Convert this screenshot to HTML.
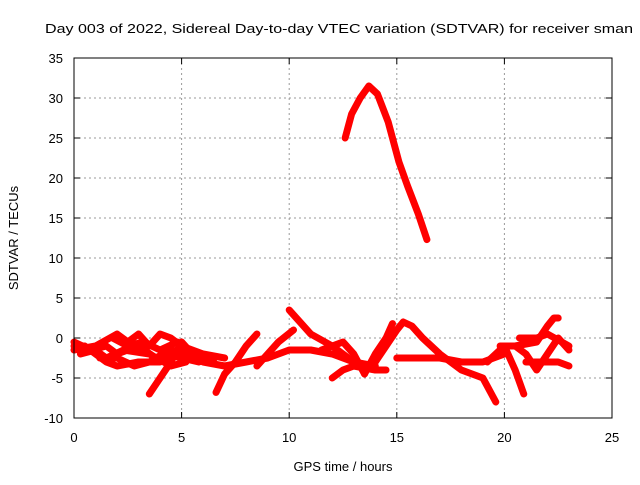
<!DOCTYPE html>
<html><head><meta charset="utf-8"><style>
body{margin:0;background:#fff}
svg text{font-family:"Liberation Sans",sans-serif;font-size:13px;fill:#000}
</style></head><body>
<svg id="c" width="640" height="480" xmlns="http://www.w3.org/2000/svg">
<text x="45" y="33" textLength="588" lengthAdjust="spacingAndGlyphs">Day 003 of 2022, Sidereal Day-to-day VTEC variation (SDTVAR) for receiver sman</text>
<text x="343" y="471" text-anchor="middle">GPS time / hours</text>
<text transform="translate(18,238) rotate(-90)" text-anchor="middle">SDTVAR / TECUs</text>
<g id="grid"></g><g id="series"></g>
<rect x="74" y="58" width="538" height="360" fill="none" stroke="#000" stroke-width="1"/>
</svg>
<script>
const xTicks=[0,5,10,15,20,25];
const yTicks=[-10,-5,0,5,10,15,20,25,30,35];
const arcX=[12.6,12.9,13.3,13.7,14.1,14.6,15.1,15.5,16.0,16.4];
const arcY=[25,28,30,31.5,30.5,27,22,19,15.5,12.3];
const tracks=[
[[0,-1],[0.5,-1],[1,-2],[1.5,-3],[2,-3.5],[3,-3],[4,-3],[5,-2],[6,-3],[7,-3.5],[8,-3],[9,-2.5],[10,-1.5],[11,-1.5],[12,-2],[13,-3],[14,-3.5]],
[[0,-1.5],[1,-1],[2,0.5],[2.5,-0.5],[3,0.5],[3.5,-1],[4,0.5],[4.5,0],[5,-1],[6,-2],[7,-2.5]],
[[0,-0.5],[0.8,-1.5],[1.5,-1],[2,-2],[3,-1],[3.8,-2.5],[4.5,-1.5],[5.5,-2]],
[[1.2,-2.5],[2,-2.5],[2.8,-3.5],[3.5,-3],[4.2,-2],[5,-2.5],[5.8,-3]],
[[1.8,0],[2.5,-1],[3.2,-0.5],[4,-1.5],[4.8,-0.5],[5.6,-2.5],[6.5,-3]],
[[0.3,-2],[1,-1.5],[1.5,-2.5],[2.3,-1.5],[3.5,-2],[4.5,-3.5],[5.2,-3]],
[[3.5,-7],[4,-5],[4.5,-3],[5,-0.5],[5.5,-2]],
[[6.6,-6.8],[7,-4.5],[7.5,-3],[8,-1],[8.5,0.5]],
[[8.5,-3.5],[9,-2],[9.5,-0.5],[10.2,1]],
[[10,3.5],[10.5,2],[11,0.5],[12,-1],[13,-3],[13.5,-4]],
[[12,-5],[12.5,-4],[13,-3.5],[14,-4],[14.5,-4]],
[[11.5,-1.5],[12.5,-0.5],[13,-2],[13.5,-4.5]],
[[13.5,-4.5],[14,-2],[14.5,0],[14.8,1.8]],
[[14,-3],[14.5,-1],[15,1],[15.3,2],[15.7,1.5],[16.2,0],[17,-2],[18,-4],[19,-5],[19.6,-8]],
[[15,-2.5],[16,-2.5],[17,-2.5],[18,-3],[19,-3],[20,-2]],
[[19.2,-3],[19.6,-2],[20,-1],[20.5,-4],[20.9,-7]],
[[19.8,-1],[20.5,-1],[21,-2],[21.5,-4],[22,-2],[22.5,0],[23,-1.5]],
[[20.5,-1],[21.5,-0.5],[22,1.5],[22.3,2.5],[22.5,2.5]],
[[21,-3],[22,-3],[22.5,-3],[23,-3.5]],
[[20.7,0],[21.5,0],[22,0.5],[23,-1]]
];
const X=v=>74+v*538/25, Y=v=>418-(v+10)*8;
const NS="http://www.w3.org/2000/svg";
const grid=document.getElementById('grid'), ser=document.getElementById('series');
function mk(tag,attrs,parent){const e=document.createElementNS(NS,tag);for(const k in attrs)e.setAttribute(k,attrs[k]);parent.appendChild(e);return e;}
xTicks.forEach(t=>{
 if(t>0&&t<25){const g=mk('line',{x1:X(t),x2:X(t),y1:58,y2:418,stroke:'#999','stroke-dasharray':'2,3'},grid);
 
 }
 const tk=mk('path',{d:`M${X(t)},418v-6M${X(t)},58v6`,stroke:'#000'},grid);
 
 
 const l=mk('text',{x:X(t),y:442,'text-anchor':'middle'},grid);l.textContent=t;
 
 
});
yTicks.forEach(t=>{
 if(t>-10&&t<35){const g=mk('line',{x1:74,x2:612,y1:Y(t),y2:Y(t),stroke:'#999','stroke-dasharray':'2,3'},grid);
 
 }
 const tk=mk('path',{d:`M74,${Y(t)}h6M612,${Y(t)}h-6`,stroke:'#000'},grid);
 
 
 const l=mk('text',{x:63,y:Y(t)+5,'text-anchor':'end'},grid);l.textContent=t;
 
 
});
const arc=mk('polyline',{points:arcX.map((x,i)=>X(x)+','+Y(arcY[i])).join(' '),fill:'none',stroke:'#f00','stroke-width':7,'stroke-linejoin':'round','stroke-linecap':'round'},ser);


tracks.forEach(tr=>{
 const p=mk('polyline',{points:tr.map(d=>X(d[0])+','+Y(d[1])).join(' '),fill:'none',stroke:'#f00','stroke-width':7,'stroke-linejoin':'round','stroke-linecap':'round'},ser);
 
 
});
</script>
</body></html>
